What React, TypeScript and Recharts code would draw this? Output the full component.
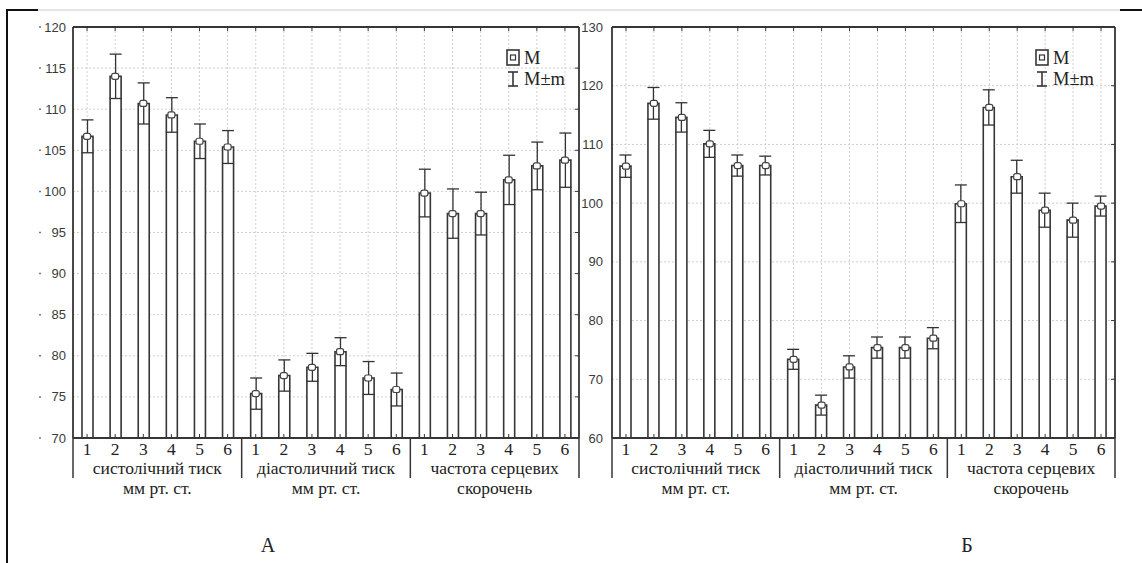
import React from 'react';
import { ComposedChart, Bar, ErrorBar, Scatter, XAxis, YAxis, CartesianGrid } from 'recharts';

// ---- categories / labels ----
const subLabels = ['1', '2', '3', '4', '5', '6'];
const groupLabels: string[][] = [
  ['систолічний тиск', 'мм рт. ст.'],
  ['діастоличний тиск', 'мм рт. ст.'],
  ['частота серцевих', 'скорочень'],
];

// ---- Panel A (means, m) ----
const meanA_sys = [106.7, 114.0, 110.7, 109.3, 106.1, 105.4];
const errA_sys = [2.0, 2.7, 2.5, 2.1, 2.1, 2.0];
const meanA_dia = [75.4, 77.6, 78.6, 80.5, 77.3, 75.9];
const errA_dia = [1.9, 1.9, 1.7, 1.7, 2.0, 2.0];
const meanA_hr = [99.8, 97.3, 97.3, 101.4, 103.1, 103.8];
const errA_hr = [2.9, 3.0, 2.6, 3.0, 2.9, 3.3];
const ticksA = [70, 75, 80, 85, 90, 95, 100, 105, 110, 115, 120];

// ---- Panel Б (means, m) ----
const meanB_sys = [106.3, 117.0, 114.6, 110.1, 106.4, 106.4];
const errB_sys = [1.9, 2.7, 2.5, 2.3, 1.8, 1.6];
const meanB_dia = [73.4, 65.6, 72.1, 75.4, 75.4, 77.0];
const errB_dia = [1.7, 1.7, 1.9, 1.8, 1.8, 1.8];
const meanB_hr = [99.9, 116.3, 104.5, 98.8, 97.1, 99.5];
const errB_hr = [3.2, 3.0, 2.8, 2.9, 2.9, 1.7];
const ticksB = [60, 70, 80, 90, 100, 110, 120, 130];

type Row = { id: string; label: string; group: number; mean: number; err: number };

function build(means: number[][], errs: number[][]): Row[] {
  const rows: Row[] = [];
  means.forEach((g, gi) =>
    g.forEach((v, i) => rows.push({ id: `${gi}-${i}`, label: subLabels[i], group: gi, mean: v, err: errs[gi][i] }))
  );
  return rows;
}

const dataA = build([meanA_sys, meanA_dia, meanA_hr], [errA_sys, errA_dia, errA_hr]);
const dataB = build([meanB_sys, meanB_dia, meanB_hr], [errB_sys, errB_dia, errB_hr]);

const INK = '#363636';
const TXT = '#222';
const SERIF = "'Liberation Serif', 'Times New Roman', serif";
const SANS = "'Liberation Sans', Arial, sans-serif";
const serifStyle = { fontFamily: SERIF };
const FS = 17.5;

const makeBottomTick = (data: Row[]) => (props: any) => {
  const { x, y, payload, index, width, visibleTicksCount } = props;
  let band = payload && payload.offset ? payload.offset * 2 : 0;
  if (!band && width && visibleTicksCount) band = width / visibleTicksCount;
  if (!band) band = 28;
  const row = data[index];
  const els: any[] = [];
  els.push(<line key="t" x1={x} x2={x} y1={y} y2={y - 4} stroke={INK} strokeWidth={1} />);
  els.push(
    <text key="l" x={x} y={y + 16.5} textAnchor="middle" style={{ ...serifStyle, fontSize: FS }} fill={TXT}>
      {row ? row.label : payload.value}
    </text>
  );
  if (index % 6 === 0) {
    const gx = x - band / 2;
    els.push(<line key="s" x1={gx} x2={gx} y1={y} y2={y + 40} stroke={INK} strokeWidth={1.5} />);
    const cx = x + 2.5 * band;
    const g = groupLabels[Math.floor(index / 6)];
    els.push(
      <text key="g1" x={cx} y={y + 36} textAnchor="middle" style={{ ...serifStyle, fontSize: FS }} fill={TXT}>
        {g[0]}
      </text>
    );
    els.push(
      <text key="g2" x={cx} y={y + 55.5} textAnchor="middle" style={{ ...serifStyle, fontSize: FS }} fill={TXT}>
        {g[1]}
      </text>
    );
  }
  if (index === data.length - 1) {
    const gx = x + band / 2;
    els.push(<line key="e" x1={gx} x2={gx} y1={y} y2={y + 40} stroke={INK} strokeWidth={1.5} />);
  }
  return <g>{els}</g>;
};

const TopTick = (props: any) => {
  const { x, y } = props;
  return <line x1={x} x2={x} y1={y} y2={y + 4} stroke={INK} strokeWidth={1} />;
};

const makeLeftTick = (gap: number, dot: boolean) => (props: any) => {
  const { x, y, payload } = props;
  return (
    <g>
      {dot && <line x1={x - 34} x2={x - 32} y1={y} y2={y} stroke="#777" strokeWidth={1.5} />}
      <text x={x - gap} y={y + 4.5} textAnchor="end" style={{ fontFamily: SANS, fontSize: 13 }} fill="#3a3a3a">
        {payload.value}
      </text>
    </g>
  );
};

const RightTick = (props: any) => {
  const { x, y } = props;
  return <line x1={x} x2={x - 4} y1={y} y2={y} stroke={INK} strokeWidth={1} />;
};

const MeanMarker = (props: any) => {
  const { cx, cy } = props;
  if (cx == null || cy == null) return null;
  return <rect x={cx - 3.5} y={cy - 3} width={7} height={6} rx={2} fill="#fff" stroke="#444" strokeWidth={1.2} />;
};

type PanelProps = {
  data: Row[];
  domain: [number, number];
  ticks: number[];
  marginLeft: number;
  marginRight: number;
  labelGap: number;
  dot: boolean;
};

const YW = 40;

function Panel({ data, domain, ticks, marginLeft, marginRight, labelGap, dot }: PanelProps) {
  return (
    <div style={{ position: 'absolute', left: 0, top: 0 }}>
      <ComposedChart
        width={1142}
        height={563}
        data={data}
        margin={{ top: 26, left: marginLeft, right: marginRight, bottom: 65 }}
        barCategoryGap={0}
      >
        <CartesianGrid stroke="#cfcfcf" strokeDasharray="2 2" />
        <XAxis
          dataKey="id"
          type="category"
          height={60}
          tickSize={0}
          tickMargin={0}
          interval={0}
          axisLine={{ stroke: INK, strokeWidth: 1.8 }}
          tickLine={false}
          tick={makeBottomTick(data)}
        />
        <XAxis
          xAxisId="top"
          dataKey="id"
          type="category"
          orientation="top"
          height={1}
          tickSize={0}
          tickMargin={0}
          interval={0}
          axisLine={{ stroke: INK, strokeWidth: 1.8 }}
          tickLine={false}
          tick={TopTick}
        />
        <YAxis
          type="number"
          domain={domain}
          ticks={ticks}
          allowDataOverflow
          width={YW}
          tickSize={0}
          tickMargin={0}
          interval={0}
          axisLine={{ stroke: INK, strokeWidth: 1.8 }}
          tickLine={false}
          tick={makeLeftTick(labelGap, dot)}
        />
        <YAxis
          yAxisId="right"
          orientation="right"
          type="number"
          domain={domain}
          ticks={ticks}
          allowDataOverflow
          width={1}
          tickSize={0}
          tickMargin={0}
          interval={0}
          axisLine={{ stroke: INK, strokeWidth: 1.8 }}
          tickLine={false}
          tick={RightTick}
        />
        <Bar dataKey="mean" barSize={11} fill="#fff" stroke={INK} strokeWidth={1.6} isAnimationActive={false}>
          <ErrorBar dataKey="err" width={6} stroke="#333" strokeWidth={1.3} direction="y" isAnimationActive={false} />
        </Bar>
        <Scatter dataKey="mean" shape={MeanMarker} isAnimationActive={false} />
      </ComposedChart>
    </div>
  );
}

function LegendBox({ x }: { x: number }) {
  return (
    <g>
      <rect x={x} y={50} width={12} height={15} fill="#fff" stroke={INK} strokeWidth={1.6} />
      <rect x={x + 3.5} y={55} width={5} height={5} fill="#fff" stroke={INK} strokeWidth={1.2} />
      <text x={x + 17} y={64} style={{ ...serifStyle, fontSize: 18.5 }} fill={TXT}>M</text>
      <line x1={x + 6} x2={x + 6} y1={72} y2={86} stroke={INK} strokeWidth={1.6} />
      <line x1={x + 1} x2={x + 11} y1={72} y2={72} stroke={INK} strokeWidth={1.6} />
      <line x1={x + 1} x2={x + 11} y1={86} y2={86} stroke={INK} strokeWidth={1.6} />
      <text x={x + 17} y={85} style={{ ...serifStyle, fontSize: 18.5 }} fill={TXT}>M±m</text>
    </g>
  );
}

export default function App() {
  return (
    <div style={{ position: 'absolute', left: 0, top: 0, width: 1142, height: 563, background: '#fff', overflow: 'hidden' }}>
      <Panel data={dataA} domain={[70, 120]} ticks={ticksA} marginLeft={73 - YW} marginRight={1142 - 579 - 1} labelGap={7} dot />
      <Panel data={dataB} domain={[60, 130]} ticks={ticksB} marginLeft={612 - YW} marginRight={1142 - 1115 - 1} labelGap={9} dot={false} />
      <svg width={1142} height={563} style={{ position: 'absolute', left: 0, top: 0, pointerEvents: 'none' }}>
        <line x1={7} x2={7} y1={10} y2={563} stroke="#111" strokeWidth={2} />
        <line x1={6} x2={38} y1={10} y2={10} stroke="#111" strokeWidth={2} />
        <line x1={38} x2={1120} y1={10} y2={10} stroke="#cccccc" strokeWidth={1.2} />
        <line x1={1120} x2={1142} y1={10} y2={10} stroke="#111" strokeWidth={2} />
        <LegendBox x={507} />
        <LegendBox x={1036} />
        <text x={268} y={552} textAnchor="middle" style={{ ...serifStyle, fontSize: 20 }} fill={TXT}>А</text>
        <text x={967} y={552} textAnchor="middle" style={{ ...serifStyle, fontSize: 20 }} fill={TXT}>Б</text>
      </svg>
    </div>
  );
}
